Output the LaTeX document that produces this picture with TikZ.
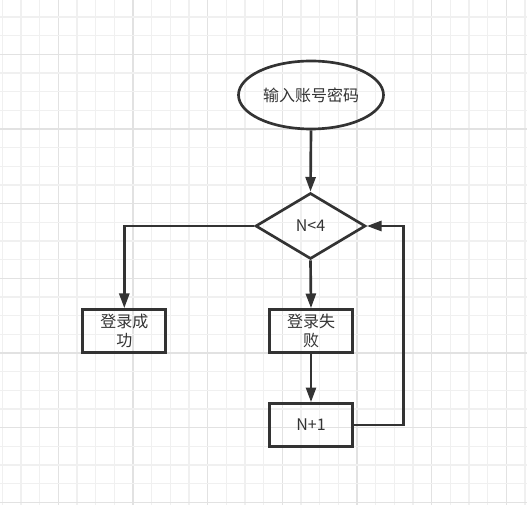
\documentclass[tikz,border=0pt]{standalone}
\usepackage{fontspec}
\setmainfont{Noto Sans CJK SC}
\usetikzlibrary{arrows.meta,shapes.geometric}
\definecolor{ink}{HTML}{333333}
\definecolor{gridminor}{HTML}{F0F0F0}
\definecolor{gridmajor}{HTML}{E2E2E2}
\begin{document}
\begin{tikzpicture}[x=0.75pt,y=-0.75pt,
  shapeline/.style={draw=ink,line width=2pt,text=ink,font=\fontsize{12}{14.5}\selectfont,inner sep=0pt},
  boxnode/.style={shapeline,rectangle,minimum width=83*0.75pt,minimum height=43*0.75pt,align=center},
  ovalnode/.style={shapeline,ellipse,minimum width=145*0.75pt,minimum height=68*0.75pt},
  decnode/.style={shapeline,diamond,minimum width=110*0.75pt,minimum height=66*0.75pt},
  conn/.style={draw=ink,line width=2pt,-{Triangle[length=11pt,width=7.5pt]}},
  plainconn/.style={draw=ink,line width=2pt}]
\useasboundingbox (0,0) rectangle (527,505);
\fill[white] (0,0) rectangle (527,505);
% grid
\foreach \i in {0,...,28}{
  \pgfmathsetmacro{\gx}{2.3+18.667*\i}
  \pgfmathtruncatemacro{\m}{mod(\i+1,4)}
  \ifnum\m=0
    \draw[gridmajor,line width=0.9pt] (\gx,0) -- (\gx,505);
  \else
    \draw[gridminor,line width=0.9pt] (\gx,0) -- (\gx,505);
  \fi
}
\foreach \i in {1,...,28}{
  \pgfmathsetmacro{\gy}{-1.7+18.667*\i}
  \pgfmathtruncatemacro{\m}{mod(\i+1,4)}
  \ifnum\m=0
    \draw[gridmajor,line width=0.9pt] (0,\gy) -- (527,\gy);
  \else
    \draw[gridminor,line width=0.9pt] (0,\gy) -- (527,\gy);
  \fi
}
% nodes
\node[ovalnode] (start) at (311,95) {输入账号密码};
\node[decnode] (dec) at (310.5,226) {N<4};
\node[boxnode] (ok) at (124.3,331) {登录成\\功};
\node[boxnode] (fail) at (311,331) {登录失\\败};
\node[boxnode] (inc) at (311,425) {N+1};
\coordinate (back) at (403.3,226);
% connectors
\draw[conn] (start.south) -- (dec.north);
\draw[conn] (dec.west) -| (ok.north);
\draw[conn] (dec.south) -- (fail.north);
\draw[conn] (fail.south) -- (inc.north);
\draw[conn] (inc.east) -| (back) -- (dec.east);
\end{tikzpicture}
\end{document}
